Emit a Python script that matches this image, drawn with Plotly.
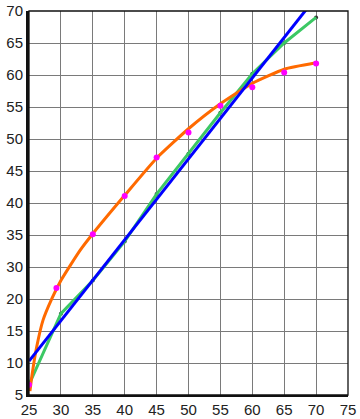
import plotly.graph_objects as go

# x values
x_pts = [25, 30, 35, 40, 45, 50, 55, 60, 65, 70]
# black data points joined by green line (y in axis units; gridline labels skip "25")
green_y = [11.6, 22.7, 27.9, 34.0, 41.4, 47.7, 54.1, 60.2, 65.0, 69.0]
# magenta points
mag_x = [25, 29.3, 35, 40, 45, 50, 55, 60, 65, 70]
mag_y = [11.6, 26.7, 35.1, 41.1, 47.1, 51.0, 55.2, 58.1, 60.4, 61.8]
# orange fitted curve samples
orange_x = [25.15, 25.5, 26.2, 27.2, 28.6, 30, 33, 35, 40, 45, 50, 55, 60, 65, 70]
orange_y = [10.6, 13.3, 17.5, 21.7, 25.1, 27.9, 32.6, 35.2, 41.2, 47.0, 51.6, 55.5, 58.7, 60.9, 61.9]
# blue straight line end points
blue_x = [25, 75]
blue_y = [15.3, 78.5]

# y axis ticks (positions and labels; the chart skips the "25" label)
y_tickvals = [10, 15, 20, 25, 30, 35, 40, 45, 50, 55, 60, 65, 70]
y_ticktext = ["5", "10", "15", "20", "30", "35", "40", "45", "50", "55", "60", "65", "70"]
x_tickvals = [25, 30, 35, 40, 45, 50, 55, 60, 65, 70, 75]

fig = go.Figure()
fig.add_trace(go.Scatter(x=x_pts, y=green_y, mode="markers",
                         marker=dict(color="#333333", size=4), cliponaxis=False))
fig.add_trace(go.Scatter(x=x_pts, y=green_y, mode="lines",
                         line=dict(color="#3cc864", width=3)))
fig.add_trace(go.Scatter(x=orange_x, y=orange_y, mode="lines",
                         line=dict(color="#ff6a00", width=3, shape="spline", smoothing=0.5)))
fig.add_trace(go.Scatter(x=mag_x, y=mag_y, mode="markers",
                         marker=dict(color="#ff00ff", size=6), cliponaxis=False))
fig.add_trace(go.Scatter(x=blue_x, y=blue_y, mode="lines",
                         line=dict(color="#0000ff", width=3)))

fig.update_layout(
    width=360, height=419,
    margin=dict(l=29, r=12, t=11, b=24, autoexpand=False),
    paper_bgcolor="white", plot_bgcolor="white",
    showlegend=False,
    font=dict(family="Liberation Sans, Arial, sans-serif", size=15, color="#222222"),
    xaxis=dict(range=[25, 75], tickvals=x_tickvals, showgrid=True, gridcolor="#7a7a7a",
               gridwidth=1, zeroline=False, showline=True, linecolor="#111111",
               linewidth=2, ticks="", ticklen=0, fixedrange=True, automargin=False),
    yaxis=dict(range=[10, 70], tickvals=y_tickvals, ticktext=y_ticktext, showgrid=True,
               gridcolor="#7a7a7a", gridwidth=1, zeroline=False, showline=True,
               linecolor="#111111", linewidth=3, ticks="", ticklen=0, fixedrange=True,
               automargin=False),
    shapes=[dict(type="rect", xref="paper", yref="paper", x0=0, y0=0, x1=1, y1=1,
                 line=dict(color="#111111", width=1.3), layer="above")],
)

fig.write_html("out.html")
